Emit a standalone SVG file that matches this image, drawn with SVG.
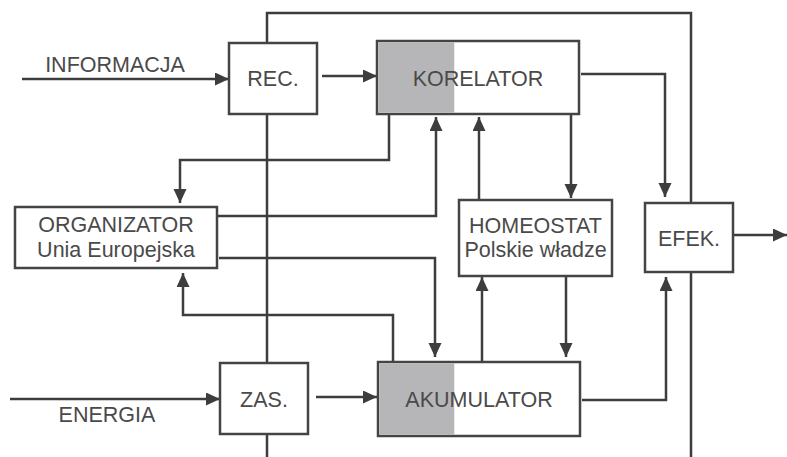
<svg xmlns="http://www.w3.org/2000/svg" width="787" height="457" viewBox="0 0 787 457">
<defs>
<marker id="ah" markerUnits="userSpaceOnUse" markerWidth="15" markerHeight="14" refX="14" refY="6.5" orient="auto">
<path d="M0,0 L14,6.5 L0,13 z" fill="#3d3d3d"/>
</marker>
<style>
.box{fill:#fff;stroke:#444;stroke-width:2.5}
.sh{fill:#b6b6b9}
.ln{fill:none;stroke:#3d3d3d;stroke-width:2.5}
.ar{fill:none;stroke:#3d3d3d;stroke-width:2.5;marker-end:url(#ah)}
text{font-family:"Liberation Sans",Arial,sans-serif;font-size:21.5px;fill:#4a4a4a;text-anchor:middle}
</style>
</defs>
<rect width="787" height="457" fill="#fff"/>
<g id="connectors">
<polyline class="ln" points="267,43 267,13 691,13 691,457"/>
<line class="ln" x1="267" y1="114" x2="267" y2="363"/>
<line class="ln" x1="267" y1="434" x2="267" y2="457"/>
<line class="ar" x1="22" y1="79" x2="229" y2="79"/>
<line class="ar" x1="322" y1="76" x2="377" y2="76"/>
<polyline class="ar" points="581,74 665,74 665,197"/>
<polyline class="ar" points="389,114 389,160 180,160 180,203"/>
<polyline class="ar" points="217,216 436,216 436,117"/>
<line class="ar" x1="479" y1="200" x2="479" y2="117"/>
<line class="ar" x1="571" y1="114" x2="571" y2="198"/>
<polyline class="ar" points="219,258 435,258 435,357"/>
<polyline class="ar" points="393,362 393,315 183,315 183,273"/>
<line class="ar" x1="482" y1="362" x2="482" y2="277"/>
<line class="ar" x1="566" y1="276" x2="566" y2="357"/>
<polyline class="ar" points="582,400 666,400 666,277"/>
<line class="ar" x1="734" y1="235" x2="787" y2="235"/>
<line class="ar" x1="10" y1="399" x2="220" y2="399"/>
<line class="ar" x1="316" y1="397" x2="377" y2="397"/>
</g>
<g id="informacja"><text x="115" y="72">INFORMACJA</text></g>
<g id="energia"><text x="107" y="422">ENERGIA</text></g>
<g id="rec"><rect class="box" x="229" y="43" width="88" height="71"/><text x="273" y="86">REC.</text></g>
<g id="korelator"><rect class="box" x="377" y="41" width="202" height="73"/><rect class="sh" x="378.25" y="42.25" width="76" height="70.5"/><text x="478" y="86">KORELATOR</text></g>
<g id="organizator"><rect class="box" x="15" y="207" width="202" height="61"/><text x="116" y="232">ORGANIZATOR</text><text x="116" y="257">Unia Europejska</text></g>
<g id="homeostat"><rect class="box" x="459" y="200" width="153" height="76"/><text x="535.5" y="233">HOMEOSTAT</text><text x="535.5" y="257">Polskie władze</text></g>
<g id="efek"><rect class="box" x="645" y="203" width="88" height="69"/><text x="689" y="246">EFEK.</text></g>
<g id="zas"><rect class="box" x="220" y="363" width="88" height="71"/><text x="264" y="407">ZAS.</text></g>
<g id="akumulator"><rect class="box" x="378" y="362" width="202" height="74"/><rect class="sh" x="379.25" y="363.25" width="75" height="71.5"/><text x="479" y="407">AKUMULATOR</text></g>
</svg>
